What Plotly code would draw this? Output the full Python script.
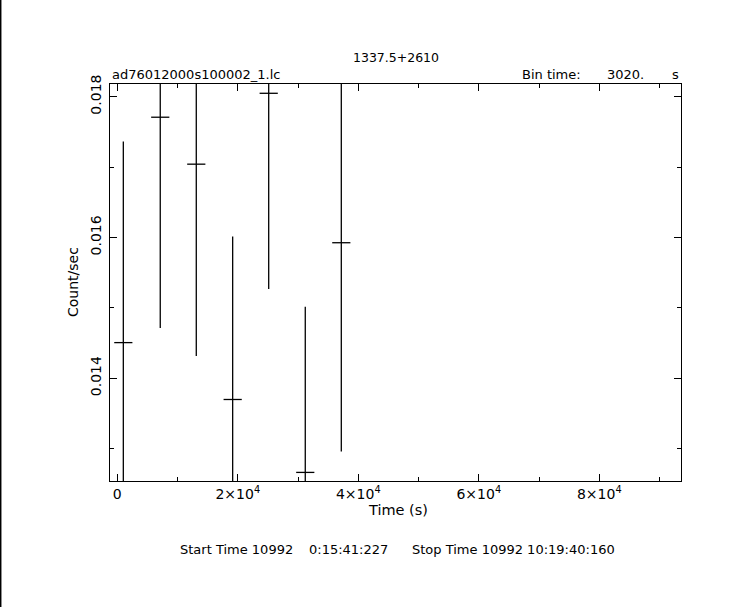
import plotly.graph_objects as go

# Data
time_s = [1000, 7130, 13110, 19150, 25130, 31200, 37180]
rate = [0.014506, 0.017708, 0.017041, 0.013698, 0.018048, 0.012662, 0.015925]
rate_err = [0.002856, 0.002995, 0.002725, 0.002316, 0.002781, 0.002355, 0.002965]
half_bin = [1510] * len(time_s)

x_tickvals = [0, 20000, 40000, 60000, 80000]
x_ticktext = ["0", "2×10<sup>4</sup>", "4×10<sup>4</sup>", "6×10<sup>4</sup>", "8×10<sup>4</sup>"]
y_tickvals = [0.014, 0.016, 0.018]
y_ticktext = ["0.014", "0.016", "0.018"]

W, H = 743, 607
L, R, T, B = 110, 62, 84, 126
pw, ph = W - L - R, H - T - B

def px(xp):
    return (xp - L) / pw

def py(yp):
    return (H - B - yp) / ph

FONT = "DejaVu Sans"
fs = 13
fs_ax = 14

fig = go.Figure()
fig.add_trace(go.Scatter(
    x=time_s, y=rate, mode="markers",
    marker=dict(size=0.1, color="black"),
    error_y=dict(type="data", array=rate_err, visible=True, width=0, thickness=1.3, color="black"),
    error_x=dict(type="data", array=half_bin, visible=True, width=0, thickness=1.3, color="black"),
    showlegend=False, cliponaxis=True, hoverinfo="skip",
))

fig.update_layout(
    width=W, height=H,
    margin=dict(l=L, r=R, t=T, b=B, pad=0),
    paper_bgcolor="white", plot_bgcolor="white",
    font=dict(family=FONT, size=fs, color="black"),
    xaxis=dict(
        range=[-1210, 93560], showgrid=False, zeroline=False,
        showline=True, linecolor="black", linewidth=1, mirror="ticks",
        ticks="inside", ticklen=7, tickcolor="black", tickwidth=1,
        tickvals=x_tickvals, ticktext=x_ticktext,
        tickfont=dict(family=FONT, size=fs_ax, color="black"),
        minor=dict(ticks="inside", ticklen=4, dtick=10000, tick0=0, tickcolor="black", showgrid=False),
        ticklabelstandoff=0,
    ),
    yaxis=dict(
        range=[0.01254, 0.01818], showgrid=False, zeroline=False,
        showline=True, linecolor="black", linewidth=1, mirror="ticks",
        ticks="inside", ticklen=7, tickcolor="black", tickwidth=1,
        tickvals=y_tickvals, ticktext=y_ticktext, tickangle=-90,
        tickfont=dict(family=FONT, size=fs_ax, color="black"),
        minor=dict(ticks="inside", ticklen=4, dtick=0.001, tick0=0.012, tickcolor="black", showgrid=False),
        ticklabelstandoff=2,
    ),
)

ann = [
    dict(text="1337.5+2610", x=0.5, y=py(57), xanchor="center", yanchor="middle", size=12.5),
    dict(text="ad76012000s100002_1.lc", x=px(110), y=py(75), xanchor="left", yanchor="middle"),
    dict(text="Bin time:", x=px(520), y=py(75), xanchor="left", yanchor="middle"),
    dict(text="3020.", x=px(605), y=py(75), xanchor="left", yanchor="middle"),
    dict(text="s", x=px(681), y=py(75), xanchor="right", yanchor="middle"),
    dict(text="Time (s)", x=px(398), y=py(510), xanchor="center", yanchor="middle", size=14.5),
    dict(text="Count/sec", x=px(73), y=py(282), xanchor="center", yanchor="middle", textangle=-90, size=14),
    dict(text="Start Time 10992", x=px(178), y=py(549), xanchor="left", yanchor="middle"),
    dict(text="0:15:41:227", x=px(307), y=py(549), xanchor="left", yanchor="middle"),
    dict(text="Stop Time 10992 10:19:40:160", x=px(410), y=py(549), xanchor="left", yanchor="middle"),
]
for a in ann:
    size = a.pop("size", fs)
    a.update(xref="paper", yref="paper", showarrow=False, font=dict(family=FONT, size=size, color="black"))
    fig.add_annotation(**a)

fig.add_shape(type="line", xref="paper", yref="paper",
              x0=px(0.7), x1=px(0.7), y0=py(H), y1=py(0),
              line=dict(color="black", width=1.5))

fig.write_html("out.html", config={"displayModeBar": False},
               post_script="document.body.style.margin='0px';")
